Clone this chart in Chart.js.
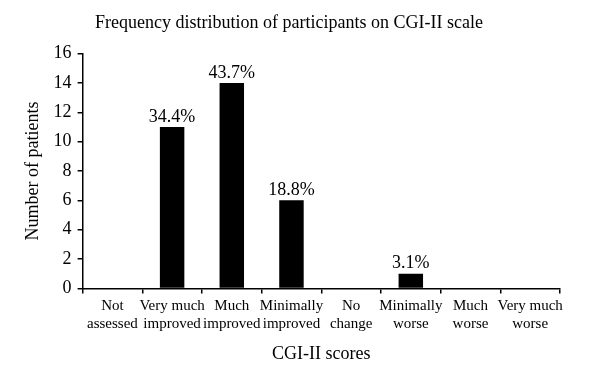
<!DOCTYPE html>
<html>
<head>
<meta charset="utf-8">
<script src="https://cdn.jsdelivr.net/npm/chart.js@4"></script>
<style>
  body { margin: 0; background: #fff; }
  #wrap { width: 600px; height: 387px; }
</style>
</head>
<body>
<div id="wrap"><canvas id="cgiChart"></canvas></div>
<script>
// CGI-II score categories and patient counts
const categories = [
    ['Not', 'assessed'],
    ['Very much', 'improved'],
    ['Much', 'improved'],
    ['Minimally', 'improved'],
    ['No', 'change'],
    ['Minimally', 'worse'],
    ['Much', 'worse'],
    ['Very much', 'worse']
];
const patientCounts = [0, 11, 14, 6, 0, 1, 0, 0];
const percentLabels = ['', '34.4%', '43.7%', '18.8%', '', '3.1%', '', ''];

const FONT = "'Liberation Serif', 'DejaVu Serif', serif";

// Draws percentage text above each bar
const percentPlugin = {
    id: 'percentLabels',
    afterDatasetsDraw(chart) {
        const ctx = chart.ctx;
        const meta = chart.getDatasetMeta(0);
        ctx.save();
        ctx.font = '18px ' + FONT;
        ctx.fillStyle = '#000';
        ctx.textAlign = 'center';
        ctx.textBaseline = 'bottom';
        meta.data.forEach((bar, i) => {
            if (!percentLabels[i]) return;
            ctx.fillText(percentLabels[i], bar.x, bar.y - 1);
        });
        ctx.restore();
    }
};

new Chart(document.getElementById('cgiChart'), {
    type: 'bar',
    data: {
        labels: categories,
        datasets: [{
            data: patientCounts,
            backgroundColor: '#000',
            borderWidth: 0,
            barPercentage: 0.41,
            categoryPercentage: 1
        }]
    },
    options: {
        responsive: true,
        maintainAspectRatio: false,
        animation: false,
        layout: { padding: { left: 18, right: 40, top: 0, bottom: 18 } },
        plugins: {
            legend: { display: false },
            tooltip: { enabled: false },
            title: {
                display: true,
                text: 'Frequency distribution of participants on CGI-II scale',
                color: '#000',
                font: { family: FONT, size: 18, weight: 'normal' },
                padding: { top: 12, bottom: 20 }
            }
        },
        scales: {
            x: {
                offset: true,
                border: { color: '#000', width: 1.5 },
                grid: {
                    offset: true,
                    drawOnChartArea: false,
                    drawTicks: true,
                    tickLength: 5,
                    color: '#000',
                    lineWidth: 1.5
                },
                ticks: {
                    color: '#000',
                    font: { family: FONT, size: 15 },
                    maxRotation: 0,
                    autoSkip: false,
                    padding: 4
                },
                title: {
                    display: true,
                    text: 'CGI-II scores',
                    color: '#000',
                    font: { family: FONT, size: 18 },
                    padding: { top: 6 }
                }
            },
            y: {
                min: 0,
                max: 16,
                border: { color: '#000', width: 1.5 },
                grid: {
                    drawOnChartArea: false,
                    drawTicks: true,
                    tickLength: 5,
                    color: '#000',
                    lineWidth: 1.5
                },
                ticks: {
                    stepSize: 2,
                    color: '#000',
                    font: { family: FONT, size: 18 },
                    padding: 6
                },
                title: {
                    display: true,
                    text: 'Number of patients',
                    color: '#000',
                    font: { family: FONT, size: 18 },
                    padding: { bottom: 4 }
                }
            }
        }
    },
    plugins: [percentPlugin]
});
</script>
</body>
</html>
